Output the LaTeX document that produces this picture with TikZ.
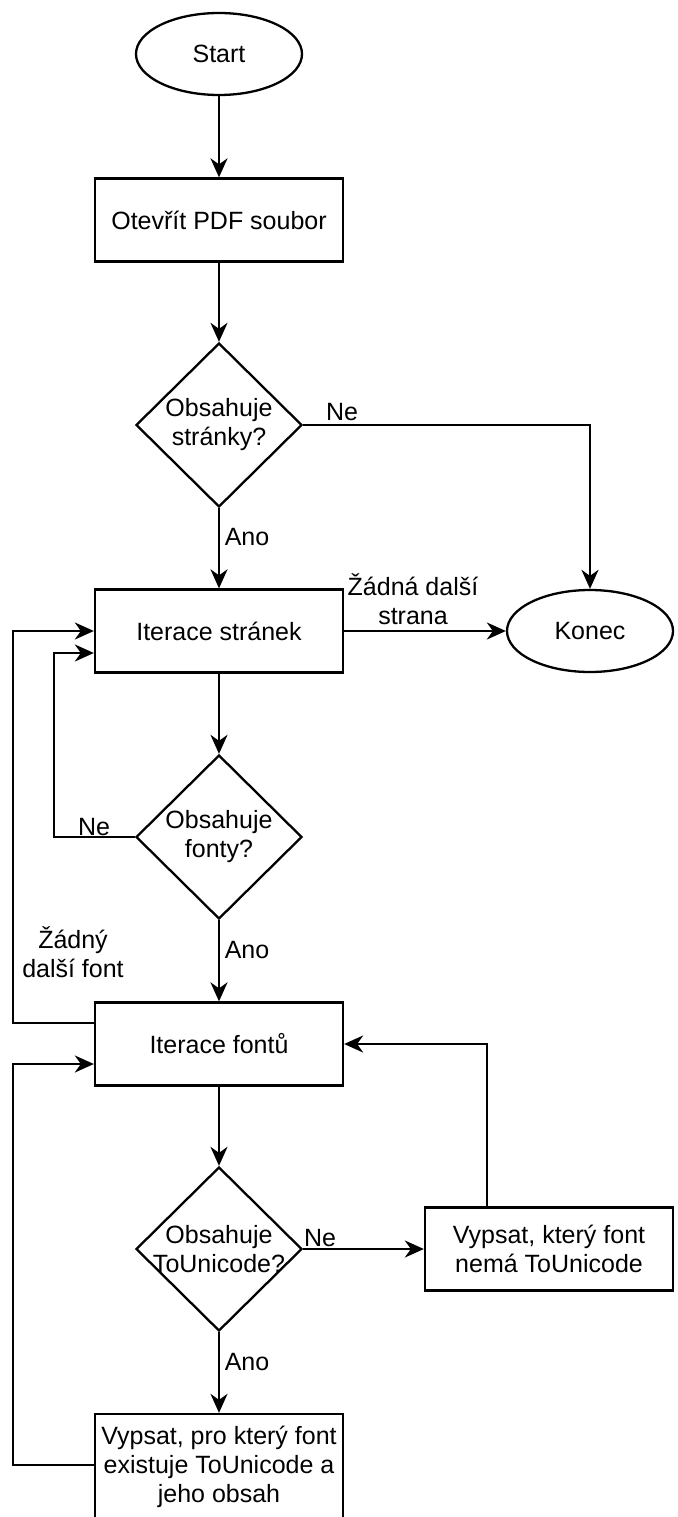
\documentclass[tikz,border=0pt]{standalone}
\usepackage{fontspec}
\setmainfont{Liberation Sans}
\usetikzlibrary{shapes.geometric,arrows.meta,calc}
\begin{document}
\begin{tikzpicture}[x=1pt,y=-1pt,
  every node/.style={font=\fontsize{25}{29}\selectfont, inner sep=0pt},
  term/.style={ellipse, draw, line width=2.3pt, minimum width=166pt, minimum height=82pt},
  proc/.style={rectangle, draw, line width=2.3pt, minimum width=248pt, minimum height=83pt, align=center},
  dec/.style={diamond, draw, line width=2.3pt, minimum width=166pt, minimum height=164pt},
  conn/.style={line width=2.3pt, -{Stealth[length=19pt,width=17pt,inset=6pt]}},
  lbl/.style={align=center}
]
\useasboundingbox (0,0) rectangle (677,1517);

\node[term] (start) at (219,54) {Start};
\node[proc] (open) at (219,220) {Otevřít PDF soubor};
\node[dec, label={[lbl]center:Obsahuje\\stránky?}] (d1) at (219,425) {};
\node[proc] (iters) at (219,631) {Iterace stránek};
\node[term] (konec) at (590,631) {Konec};
\node[dec, label={[lbl]center:Obsahuje\\fonty?}] (d2) at (219,837) {};
\node[proc] (iterf) at (219,1044) {Iterace fontů};
\node[dec, label={[lbl]center:Obsahuje\\ToUnicode?}] (d3) at (219,1249) {};
\node[proc] (v1) at (549,1249) {Vypsat, který font\\nemá ToUnicode};
\node[proc, minimum height=106pt] (v2) at (219,1467) {Vypsat, pro který font\\existuje ToUnicode a\\jeho obsah};

\coordinate (c2a) at (54,837);
\coordinate (c2b) at (54,653);
\coordinate (c3a) at (13,1023);
\coordinate (c3b) at (13,631);
\coordinate (c4) at (487,1044);
\coordinate (c5a) at (13,1465);
\coordinate (c5b) at (13,1064);

\draw[conn] (start) -- (open);
\draw[conn] (open) -- (d1);
\draw[conn] (d1) -- (iters);
\draw[conn] (d1.east) -| (konec.north);
\draw[conn] (iters) -- (konec);
\draw[conn] (iters) -- (d2);
\draw[conn] (d2.west) -- (c2a) -- (c2b) -- (iters.west |- c2b);
\draw[conn] (d2) -- (iterf);
\draw[conn] (iterf.west |- c3a) -- (c3a) -- (c3b) -- (iters.west);
\draw[conn] (iterf) -- (d3);
\draw[conn] (d3) -- (v1);
\draw[conn] (c4 |- v1.north) -- (c4) -- (iterf.east);
\draw[conn] (d3) -- (v2);
\draw[conn] (v2.west |- c5a) -- (c5a) -- (c5b) -- (iterf.west |- c5b);

\node[lbl] (l1) at (247,537) {Ano};
\node[lbl] (l2) at (342,412) {Ne};
\node[lbl] (l3) at (413,599) {Žádná další\\strana};
\node[lbl] (l4) at (94,827) {Ne};
\node[lbl] (l5) at (247,950) {Ano};
\node[lbl] (l6) at (73,952) {Žádný\\další font};
\node[lbl] (l7) at (320,1238) {Ne};
\node[lbl] (l8) at (247,1362) {Ano};
\end{tikzpicture}
\end{document}
